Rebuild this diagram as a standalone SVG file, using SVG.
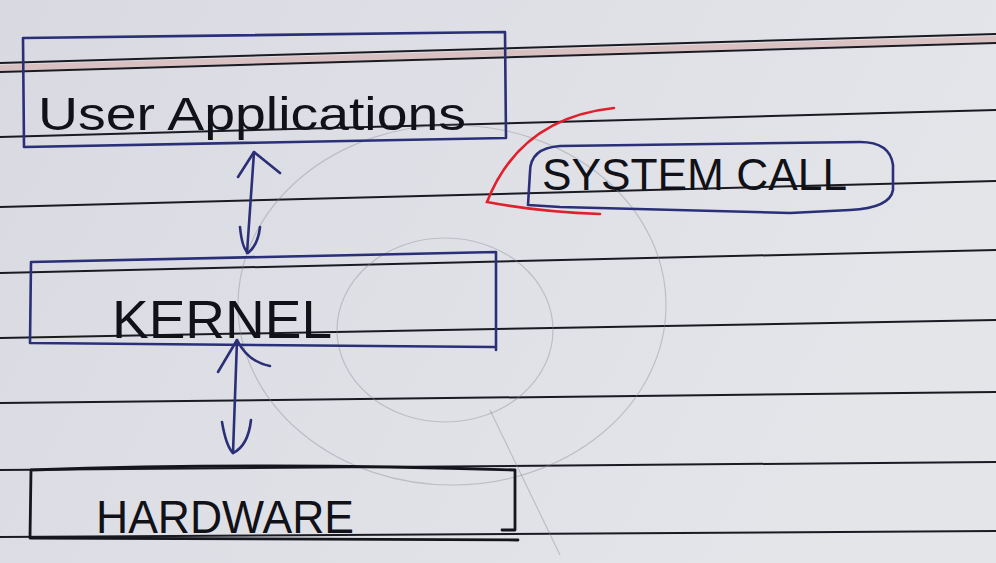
<svg xmlns="http://www.w3.org/2000/svg" width="996" height="563" viewBox="0 0 996 563">
<defs>
<linearGradient id="paper" x1="0" y1="0" x2="1" y2="0.3">
<stop offset="0" stop-color="#d9dae1"/>
<stop offset="0.5" stop-color="#dfe0e6"/>
<stop offset="1" stop-color="#e4e5e9"/>
</linearGradient>
<style>
.rule{stroke:#1a1a22;stroke-width:2;fill:none}
.blue{stroke:#2a2f78;stroke-width:2.6;fill:none;stroke-linecap:round;stroke-linejoin:round}
.black{stroke:#15151c;stroke-width:2.8;fill:none;stroke-linecap:round;stroke-linejoin:round}
.pencil{stroke:#8a8a92;stroke-width:1.2;fill:none;stroke-opacity:0.4}
.hand{font-family:"Liberation Sans","DejaVu Sans",sans-serif;fill:#111118}
</style>
</defs>
<rect width="996" height="563" fill="url(#paper)"/>
<g id="paper-lines">
<path d="M0,65 L996,36 L996,42 L0,71 Z" fill="#d8b9b8" opacity="0.8"/>
<path class="rule" d="M0,63 L996,34"/>
<path class="rule" d="M0,72 L996,43"/>
<path class="rule" d="M0,137 L996,110"/>
<path class="rule" d="M0,207 L996,181"/>
<path class="rule" d="M0,273 L996,250"/>
<path class="rule" d="M0,338 L996,320"/>
<path class="rule" d="M0,403 L996,392"/>
<path class="rule" d="M0,470 L996,462"/>
<path class="rule" d="M0,537 L996,531"/>
<ellipse class="pencil" cx="452" cy="305" rx="214" ry="180"/>
<ellipse class="pencil" cx="445" cy="330" rx="108" ry="92"/>
<path class="pencil" d="M490,410 L560,555"/>
</g>
<g id="node-user">
<path class="blue" d="M23,38 L505,32 L506,138 M23,38 L24,147 L505,138"/>
<text class="hand" x="38" y="130" font-size="46" textLength="428" lengthAdjust="spacingAndGlyphs">User Applications</text>
</g>
<g id="node-kernel">
<path class="blue" d="M31,262 L496,252 L496,350 M31,262 L30,343 L494,347"/>
<text class="hand" x="112" y="338" font-size="54" textLength="220" lengthAdjust="spacingAndGlyphs">KERNEL</text>
</g>
<g id="node-hardware">
<path class="black" d="M31,470 Q270,462 515,470 L515,530 L502,530 M31,470 L30,538 L518,540"/>
<text class="hand" x="96" y="533" font-size="46" textLength="258" lengthAdjust="spacingAndGlyphs">HARDWARE</text>
</g>
<g id="node-syscall">
<path class="blue" d="M528,205 L530,172 Q530,148 560,146 L860,142 Q890,142 893,165 L893,190 Q890,208 850,210 L790,213 L560,207 Z"/>
<text class="hand" x="542" y="190" font-size="44" textLength="305" lengthAdjust="spacingAndGlyphs">SYSTEM CALL</text>
</g>
<g id="connectors">
<path class="blue" d="M254,152 L247,253"/>
<path class="blue" d="M238,177 L254,152 L280,173"/>
<path class="blue" d="M240,227 Q242,248 248,253 Q258,245 260,227"/>
<path class="blue" d="M237,340 L233,453"/>
<path class="blue" d="M218,372 L237,340 Q248,362 270,366"/>
<path class="blue" d="M222,422 Q226,446 233,453 Q248,446 251,420"/>
<path d="M614,108 Q520,118 487,202 Q540,212 600,214" fill="none" stroke="#e0202c" stroke-width="2.6" stroke-linecap="round"/>
</g>
</svg>
